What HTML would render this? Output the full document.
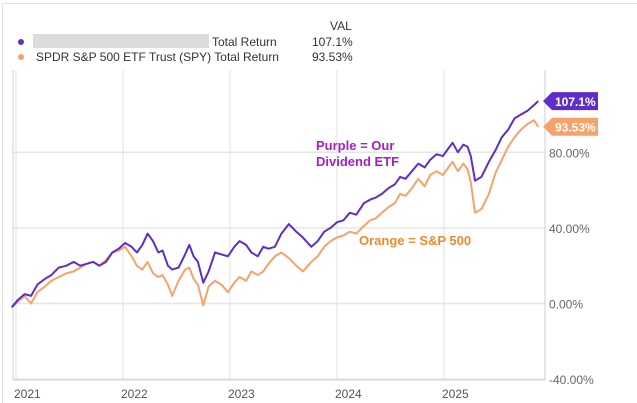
<!DOCTYPE html>
<html><head><meta charset="utf-8">
<style>
body{margin:0;background:#fff;width:637px;height:403px;overflow:hidden;font-family:"Liberation Sans",sans-serif;}
svg{display:block}
</style></head>
<body>
<svg id="chart" width="637" height="403" xmlns="http://www.w3.org/2000/svg">
<rect x="2.5" y="3.5" width="640" height="405" fill="none" stroke="#e2e2e2"/>
<g font-size="12" fill="#333">
<text x="330" y="30">VAL</text>
<circle cx="21" cy="42" r="3" fill="#5f2ec8"/>
<rect x="33" y="34" width="176" height="14" fill="#dcdcdc"/>
<text x="212" y="46">Total Return</text>
<text x="312" y="46">107.1%</text>
<circle cx="21" cy="57" r="3" fill="#f7a26b"/>
<text x="36" y="61">SPDR S&amp;P 500 ETF Trust (SPY) Total Return</text>
<text x="312" y="61">93.53%</text>
</g>
<g id="grid"></g>
<g id="series"></g>
<text x="316" y="150" font-size="13" font-weight="bold" fill="#a21fc4">Purple = Our</text>
<text x="316" y="166" font-size="13" font-weight="bold" fill="#a21fc4">Dividend ETF</text>
<text x="359" y="245" font-size="13" font-weight="bold" fill="#f0882f">Orange = S&amp;P 500</text>
</svg>
<script>
const yearTicks=[2021,2022,2023,2024,2025];
const yTicks=[-40,0,40,80];
const dates=[2020.96,2021.02,2021.08,2021.14,2021.2,2021.27,2021.33,2021.4,2021.47,2021.54,2021.6,2021.66,2021.72,2021.78,2021.84,2021.9,2021.96,2022.02,2022.08,2022.13,2022.18,2022.23,2022.28,2022.33,2022.37,2022.42,2022.46,2022.52,2022.58,2022.62,2022.66,2022.7,2022.75,2022.8,2022.86,2022.92,2022.98,2023.04,2023.09,2023.15,2023.2,2023.26,2023.31,2023.36,2023.42,2023.48,2023.55,2023.62,2023.68,2023.76,2023.82,2023.88,2023.94,2024.0,2024.06,2024.12,2024.18,2024.25,2024.31,2024.36,2024.42,2024.48,2024.54,2024.59,2024.64,2024.7,2024.76,2024.82,2024.87,2024.93,2024.99,2025.04,2025.08,2025.13,2025.18,2025.22,2025.25,2025.29,2025.35,2025.42,2025.48,2025.54,2025.6,2025.66,2025.72,2025.78,2025.84,2025.88];
const purple=[-2,2,5,4,10,13,15,19,20,22,20,21,22,20,22,27,29,32,30,27,31,37,33,27,28,20,18,19,26,31,25,22,11,17,27,26,25,30,33,31,27,25,30,29,30,37,42,38,35,30,33,38,40,43,44,48,47,53,55,56,58,61,63,67,66,70,74,72,76,79,78,82,85,80,84,83,78,65,67,75,81,88,92,98,100,102,105,107.1];
const orange=[-2,1,4,0,6,9,12,14,16,17,19,21,22,20,23,27,28,30,25,20,18,22,16,14,15,10,4,12,18,19,13,10,-1,9,12,10,6,11,14,12,17,15,17,21,25,27,24,20,17,22,25,30,33,35,36,38,37,41,44,45,48,51,53,58,57,61,66,62,68,70,68,72,75,70,74,71,64,48,50,58,69,76,83,88,92,95,97,93.53];
const L=13,R=545,T=70,B=380;
const xs=d=>123+(d-2022)*107;
const ys=v=>303.5-v*1.89;
const NS='http://www.w3.org/2000/svg';
function mk(tag,attrs,parent){const e=document.createElementNS(NS,tag);for(const k in attrs)e.setAttribute(k,attrs[k]);parent.appendChild(e);return e;}
const grid=document.getElementById('grid'),series=document.getElementById('series');
yTicks.forEach(v=>{
 const l=mk('line',{x1:L,x2:R,y1:ys(v),y2:ys(v),stroke:'#e6e6e6','stroke-width':1.5},grid);
 
 
 const t=mk('text',{x:549,y:ys(v)+5,'font-size':12,fill:'#666'},grid);
 t.textContent=v.toFixed(2)+'%';
 
 
});
yearTicks.forEach(yr=>{
 const l=mk('line',{x1:xs(yr),x2:xs(yr),y1:T,y2:B,stroke:'#e0e0e0','stroke-width':1},grid);
 
 
 const t=mk('text',{x:xs(yr)-2,y:398,'font-size':12,fill:'#555'},grid);
 t.textContent=yr;
 
 
});
const ax=mk('path',{d:`M${L} ${T}V${B}H${R}V${T}`,fill:'none',stroke:'#cfcfcf'},grid);


function line(vals,color,name){
 const d=vals.map((v,i)=>(i?'L':'M')+xs(dates[i]).toFixed(1)+' '+ys(v).toFixed(1)).join('');
 const p=mk('path',{d,fill:'none',stroke:color,'stroke-width':2,'stroke-linejoin':'round'},series);
 
 
}
line(orange,'#f7a26b','spy-line');
line(purple,'#5f2ec8','fund-line');
function tag(v,color,label,name){
 const y=ys(v);
 const g=mk('g',{},series);
 
 
 mk('path',{d:`M543 ${y}L552 ${y-9}H598V${y+9}H552Z`,fill:color},g);
 const t=mk('text',{x:555,y:y+5,'font-size':12,'font-weight':'bold',fill:'#fff'},g);
 t.textContent=label;
}
tag(purple[purple.length-1],'#5f2ec8','107.1%','fund-value-tag');
tag(orange[orange.length-1],'#f7a26b','93.53%','spy-value-tag');
</script>
</body></html>
